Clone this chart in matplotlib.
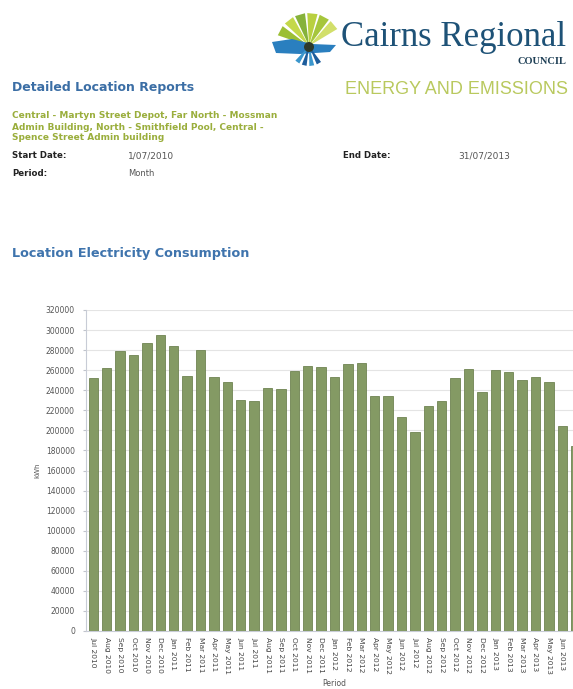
import matplotlib
matplotlib.use("Agg")
import matplotlib.pyplot as plt
from matplotlib.patches import Polygon, Circle
import numpy as np

W, H = 573, 689

months = [
    "Jul 2010", "Aug 2010", "Sep 2010", "Oct 2010", "Nov 2010", "Dec 2010",
    "Jan 2011", "Feb 2011", "Mar 2011", "Apr 2011", "May 2011", "Jun 2011",
    "Jul 2011", "Aug 2011", "Sep 2011", "Oct 2011", "Nov 2011", "Dec 2011",
    "Jan 2012", "Feb 2012", "Mar 2012", "Apr 2012", "May 2012", "Jun 2012",
    "Jul 2012", "Aug 2012", "Sep 2012", "Oct 2012", "Nov 2012", "Dec 2012",
    "Jan 2013", "Feb 2013", "Mar 2013", "Apr 2013", "May 2013", "Jun 2013",
    "Jul 2013",
]
kwh = [
    252000, 262000, 279000, 275000, 287000, 295000, 284000, 254000, 280000,
    253000, 248000, 230000, 229000, 242000, 241000, 259000, 264000, 263000,
    253000, 266000, 267000, 234000, 234000, 213000, 198000, 224000, 229000,
    252000, 261000, 238000, 260000, 258000, 250000, 253000, 248000, 204000,
    184000,
]
y_ticks = list(range(0, 320001, 20000))

locations = [
    "Central - Martyn Street Depot, Far North - Mossman",
    "Admin Building, North - Smithfield Pool, Central -",
    "Spence Street Admin building",
]


def fx(x):
    return x / W


def fy(y):
    return 1 - y / H


fig = plt.figure(figsize=(W / 100, H / 100), dpi=100)
fig.patch.set_facecolor("white")

# logo (drawn in its own pixel-space axes)
lax = fig.add_axes([fx(262), fy(72), (345 - 262) / W, (72 - 6) / H])
lax.set_xlim(262, 345)
lax.set_ylim(72, 6)
lax.axis("off")
cx, cy = 309, 46
greens = ["#9cbf35", "#c4d84a", "#86b23a", "#b9d040", "#a6c63c", "#d2df6a"]
for ang, col in zip([152, 128, 106, 84, 62, 40], greens):
    a0, a1 = np.radians(ang - 9), np.radians(ang + 9)
    r = 33
    pts = [(cx, cy),
           (cx + r * np.cos(a0), cy - r * np.sin(a0)),
           (cx + r * np.cos(a1), cy - r * np.sin(a1))]
    lax.add_patch(Polygon(pts, closed=True, fc=col, ec="none"))
band = [(272, 42), (292, 39), (312, 44), (336, 45), (330, 52), (300, 54),
        (276, 53)]
lax.add_patch(Polygon(band, closed=True, fc="#2a7fbf", ec="none"))
for ang, col in zip([-60, -82, -104, -126], ["#1d5d9c", "#3a96cc", "#1d5d9c",
                                              "#3a96cc"]):
    a0, a1 = np.radians(ang - 7), np.radians(ang + 7)
    r = 20
    pts = [(cx, cy),
           (cx + r * np.cos(a0), cy - r * np.sin(a0)),
           (cx + r * np.cos(a1), cy - r * np.sin(a1))]
    lax.add_patch(Polygon(pts, closed=True, fc=col, ec="none"))
lax.add_patch(Circle((cx, cy + 1), 5, fc="#2e3a2a", ec="none"))

fig.text(fx(341), fy(38), "Cairns Regional", fontsize=25,
         family="Liberation Serif", color="#1e5277", va="center", ha="left")
fig.text(fx(566), fy(62), "COUNCIL", fontsize=7.5, family="Liberation Serif",
         fontweight="bold", color="#1e3f55", va="center", ha="right")

# header texts
fig.text(fx(12), fy(87), "Detailed Location Reports", fontsize=9,
         fontweight="bold", color="#3b6ea5", va="center")
fig.text(fx(345), fy(90), "ENERGY AND EMISSIONS", fontsize=13,
         family="Liberation Sans", color="#b9c95e", va="center")
for i, line in enumerate(locations):
    fig.text(fx(12), fy(116 + 11 * i), line, fontsize=6.5, fontweight="bold",
             color="#9aae3c", va="center")

fig.text(fx(12), fy(156), "Start Date:", fontsize=6.2, fontweight="bold",
         color="#222222", va="center")
fig.text(fx(128), fy(156), "1/07/2010", fontsize=6.5, color="#555555",
         va="center")
fig.text(fx(343), fy(156), "End Date:", fontsize=6.2, fontweight="bold",
         color="#222222", va="center")
fig.text(fx(458), fy(156), "31/07/2013", fontsize=6.5, color="#555555",
         va="center")
fig.text(fx(12), fy(174), "Period:", fontsize=6.2, fontweight="bold",
         color="#222222", va="center")
fig.text(fx(128), fy(174), "Month", fontsize=6, color="#555555",
         va="center")

fig.text(fx(12), fy(254), "Location Electricity Consumption", fontsize=9.2,
         fontweight="bold", color="#3f74ad", va="center")

# chart (right side runs past the page edge, as in the scan)
ax = fig.add_axes([fx(86), fy(631), (583 - 86) / W, (631 - 310) / H])
x = np.arange(len(months))
ax.bar(x, kwh, width=0.7, color="#849a64", edgecolor="#6f8452",
       linewidth=0.6, zorder=3)
ax.set_xlim(-0.55, len(months) - 0.45)
ax.set_ylim(0, 320000)
ax.set_yticks(y_ticks)
ax.set_yticklabels([str(v) for v in y_ticks], fontsize=5.5, color="#555555")
ax.set_xticks(x)
ax.set_xticklabels(months, rotation=270, fontsize=5.4, color="#444444",
                   va="top", ha="center")
ax.grid(axis="y", color="#e4e4e4", linewidth=0.8, zorder=0)
ax.tick_params(axis="y", length=2, pad=6, color="#c0c4cc")
ax.tick_params(axis="x", length=0, pad=4)
for side in ["top", "right"]:
    ax.spines[side].set_visible(False)
ax.spines["left"].set_color("#c8ccd6")
ax.spines["bottom"].set_color("#c8ccd6")
ax.set_ylabel("kWh", fontsize=5, color="#555555", labelpad=4)
ax.set_xlabel("Period", fontsize=5.5, color="#555555", labelpad=4)

plt.savefig("out.png", dpi=100)
plt.close()
